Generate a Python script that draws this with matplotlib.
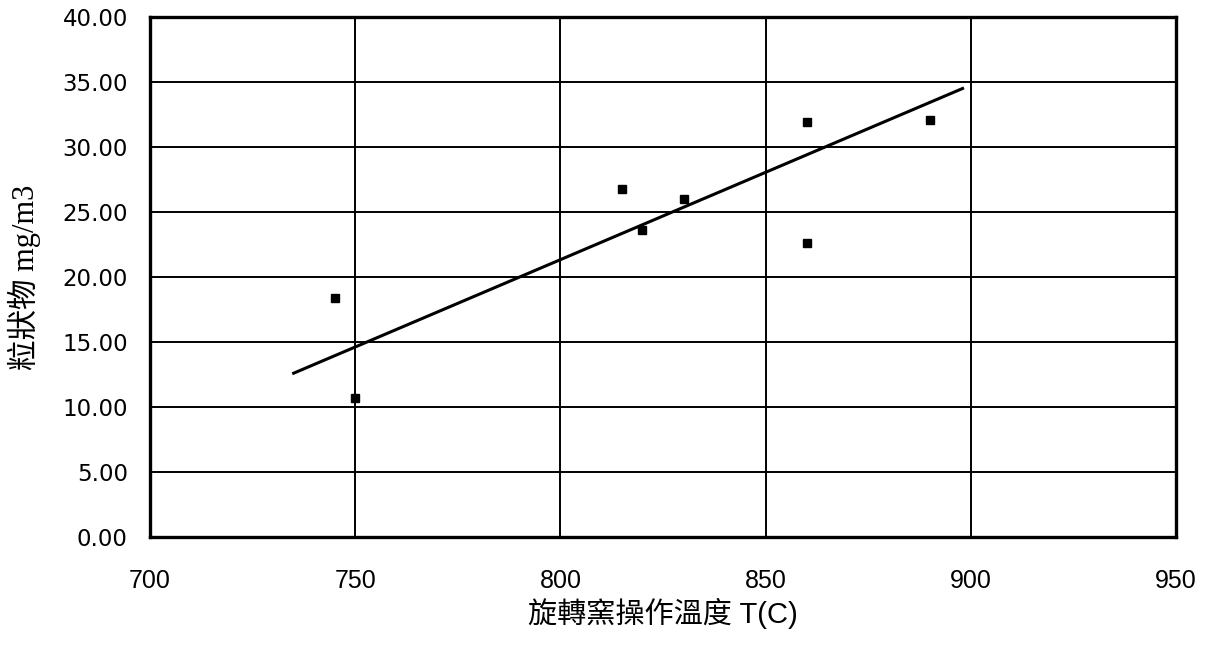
import matplotlib
matplotlib.use("Agg")
import matplotlib.pyplot as plt
from matplotlib.ticker import FormatStrFormatter

plt.rcParams['font.family'] = ['Liberation Sans', 'Noto Sans CJK TC', 'DejaVu Sans']

# Data
temp = [745, 750, 815, 820, 830, 860, 860, 890]
particulate = [18.4, 10.7, 26.8, 23.6, 26.0, 22.6, 31.9, 32.1]
trend_x = [735, 898]
trend_y = [12.6, 34.5]

x_ticks = [700, 750, 800, 850, 900, 950]
y_ticks = [0, 5, 10, 15, 20, 25, 30, 35, 40]

fig = plt.figure(figsize=(12.07, 6.48), dpi=100)
ax = fig.add_axes([0.1243, 0.1713, 0.85, 0.8025])

ax.plot(temp, particulate, linestyle='none', marker='s', markersize=5.5,
        color='black', zorder=3)
ax.plot(trend_x, trend_y, color='black', linewidth=2.2, zorder=3)

ax.set_xlim(700, 950)
ax.set_ylim(0, 40)
ax.set_xticks(x_ticks)
ax.set_yticks(y_ticks)
ax.yaxis.set_major_formatter(FormatStrFormatter('%.2f'))
ax.grid(True, color='black', linewidth=1.4)
ax.set_axisbelow(True)
for s in ax.spines.values():
    s.set_linewidth(2.4)
    s.set_color('black')

ax.tick_params(axis='x', length=0, pad=23, labelsize=18)
ax.tick_params(axis='y', length=0, pad=16, labelsize=16.5)
for lab in ax.get_yticklabels():
    lab.set_family(['DejaVu Sans'])

ax.set_xlabel('旋轉窯操作溫度 T(C)', fontsize=21, labelpad=3.5,
              family=['Liberation Sans', 'Noto Sans CJK TC'])
ax.set_ylabel('粒狀物 mg/m3', fontsize=22, labelpad=15,
              family=['Liberation Serif', 'Noto Sans CJK TC'])

fig.savefig('out.png', dpi=100, facecolor='white')
